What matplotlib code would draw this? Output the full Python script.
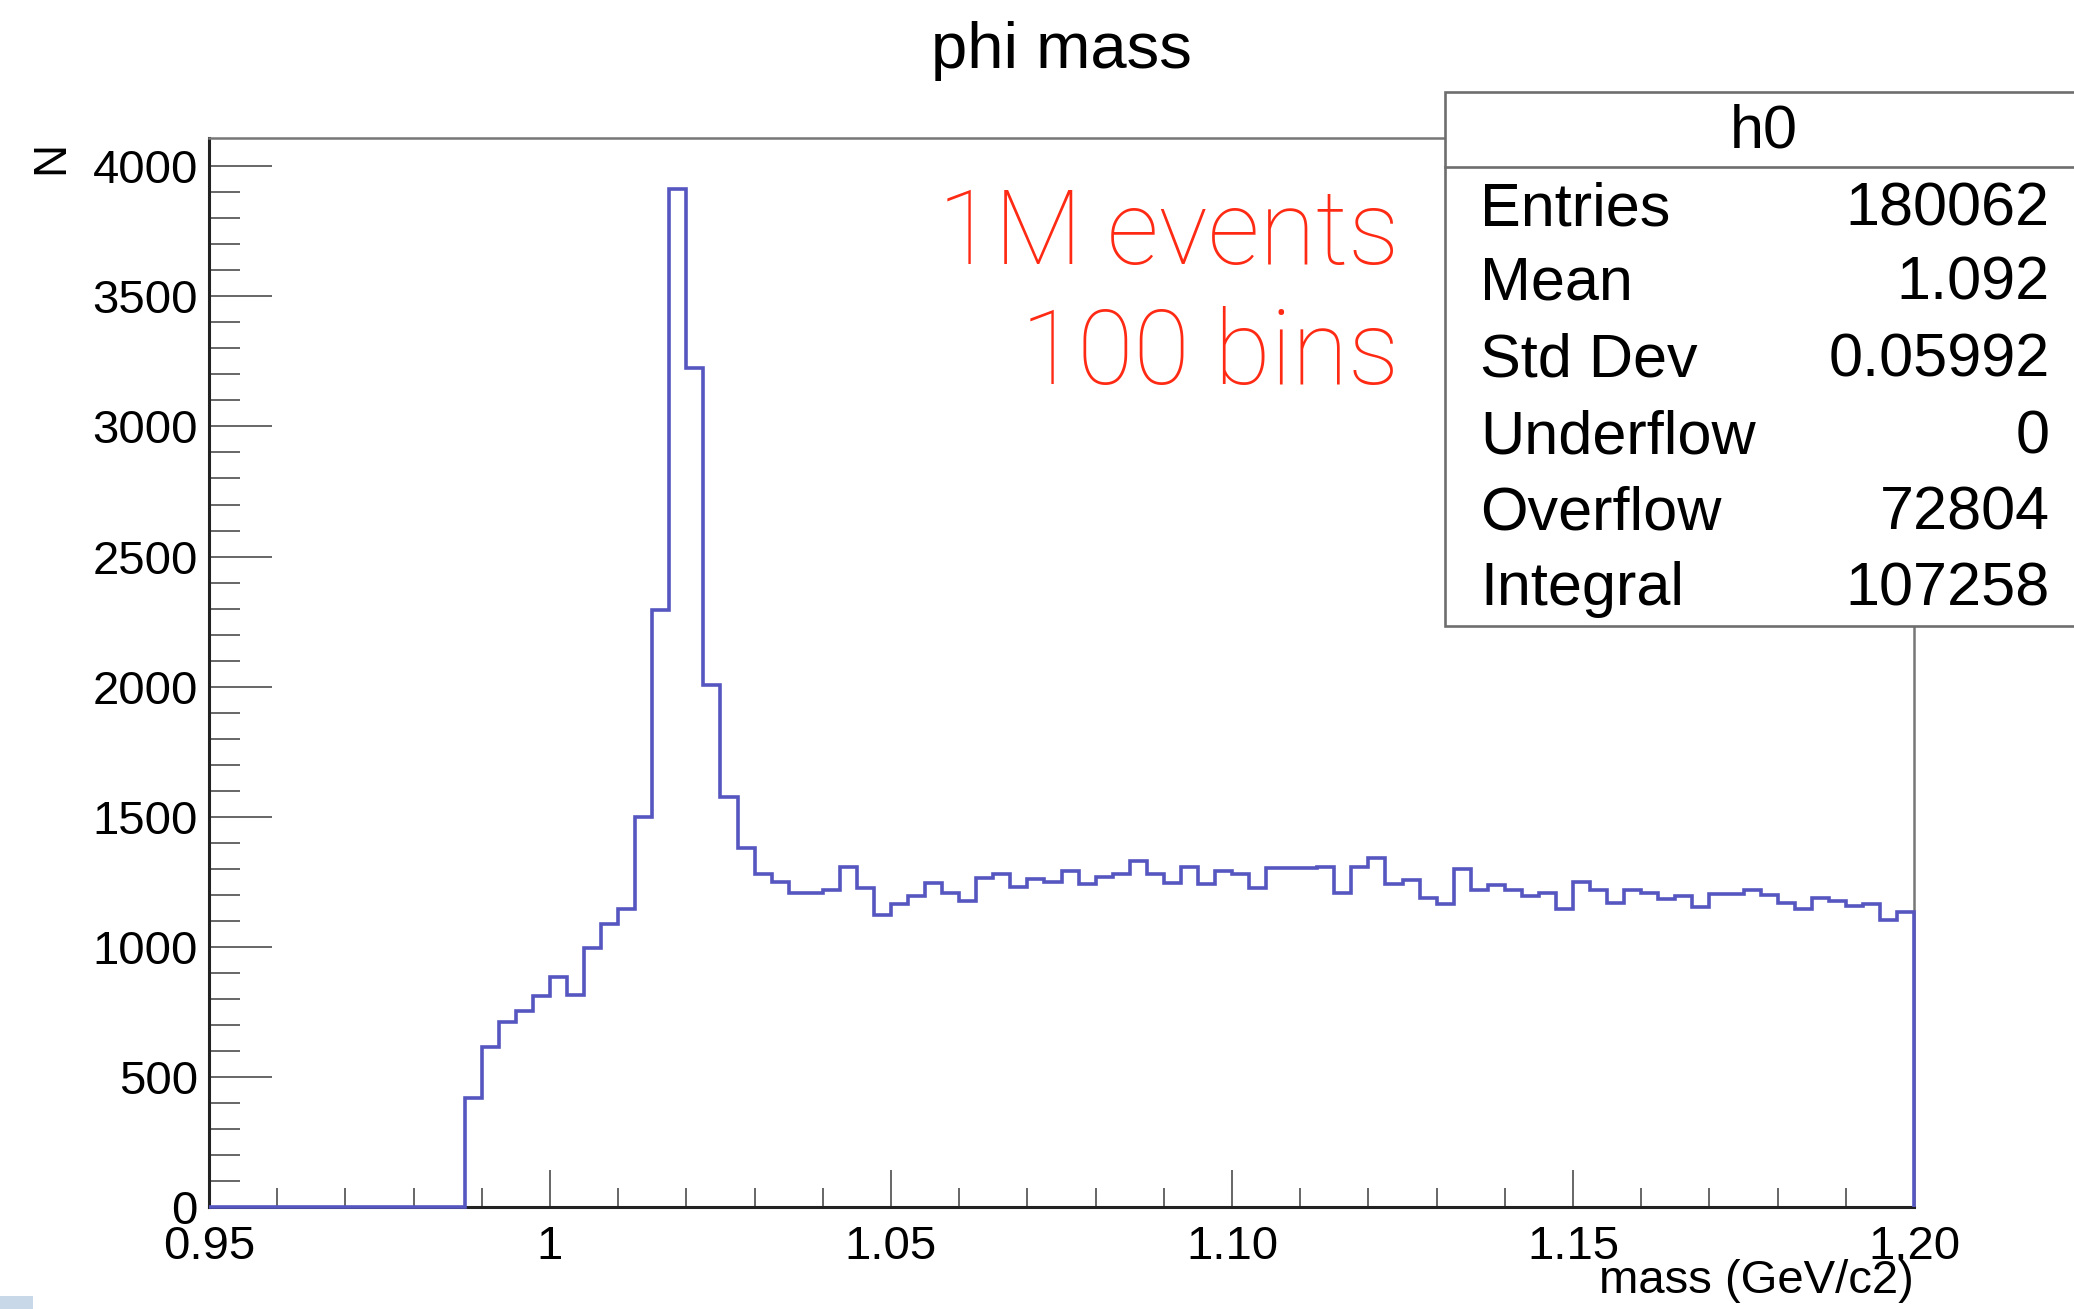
import numpy as np
import matplotlib
matplotlib.use('Agg')
import matplotlib.pyplot as plt
from matplotlib.patches import Rectangle
from matplotlib.lines import Line2D

# histogram h0 : 100 bins between 0.95 and 1.20
x_min = 0.95
x_max = 1.20
n_bins = 100
counts = [0, 0, 0, 0, 0, 0, 0, 0, 0, 0,
          0, 0, 0, 0, 0, 420, 615, 710, 752, 812,
          884, 815, 994, 1086, 1144, 1498, 2293, 3913, 3225, 2005,
          1574, 1378, 1278, 1249, 1208, 1208, 1220, 1307, 1227, 1123,
          1165, 1195, 1246, 1208, 1178, 1266, 1279, 1230, 1259, 1249,
          1292, 1240, 1268, 1281, 1331, 1281, 1246, 1307, 1240, 1292,
          1279, 1227, 1302, 1302, 1302, 1307, 1208, 1307, 1341, 1240,
          1256, 1188, 1165, 1298, 1220, 1236, 1220, 1195, 1208, 1147,
          1250, 1220, 1169, 1217, 1208, 1184, 1195, 1152, 1204, 1204,
          1220, 1198, 1169, 1147, 1188, 1178, 1156, 1165, 1104, 1134]

x_ticks = [0.95, 1.00, 1.05, 1.10, 1.15, 1.20]
x_tick_labels = ['0.95', '1', '1.05', '1.10', '1.15', '1.20']
y_ticks = [0, 500, 1000, 1500, 2000, 2500, 3000, 3500, 4000]

stat_names = ['Entries', 'Mean', 'Std Dev', 'Underflow', 'Overflow', 'Integral']
stat_values = ['180062', '1.092', '0.05992', '0', '72804', '107258']

W, H = 2074, 1309
plt.rcParams['font.family'] = ['Liberation Sans', 'DejaVu Sans']

fig = plt.figure(figsize=(W / 100, H / 100), dpi=100)
fig.patch.set_facecolor('white')

def fx(px):
    return px / W

def fy(py):
    return 1 - py / H

ax = fig.add_axes([fx(209), fy(1207), fx(1914) - fx(209), fy(138) - fy(1207)])

edges = np.linspace(x_min, x_max, n_bins + 1)
ax.stairs(counts, edges, color='#5656c0', linewidth=2.6, zorder=3, clip_on=False)

ax.set_xlim(x_min, x_max)
ax.set_ylim(0, 1.05 * max(counts))

ax.set_xticks(x_ticks)
ax.set_xticklabels(x_tick_labels)
ax.set_xticks(np.arange(0.96, 1.20, 0.01), minor=True)
ax.set_yticks(y_ticks)
ax.set_yticks(np.arange(0, 4100, 100), minor=True)

ax.tick_params(axis='x', which='major', direction='in', length=27, width=1.4,
               color='#666666', labelsize=34, pad=13)
ax.tick_params(axis='x', which='minor', direction='in', length=13.5, width=1.4,
               color='#666666')
ax.tick_params(axis='y', which='major', direction='in', length=45, width=1.4,
               color='#666666', labelsize=34, pad=8)
ax.tick_params(axis='y', which='minor', direction='in', length=22, width=1.4,
               color='#666666')

for side in ['left', 'bottom']:
    ax.spines[side].set_color('#222222')
    ax.spines[side].set_linewidth(2.2)
for side in ['top', 'right']:
    ax.spines[side].set_color('#777777')
    ax.spines[side].set_linewidth(1.8)

# titles
fig.text(fx(1061), fy(68), 'phi mass', fontsize=47, ha='center', va='baseline')
fig.text(fx(1914), fy(1293), 'mass (GeV/c2)', fontsize=34, ha='right', va='baseline')
fig.text(fx(51), fy(157), 'N', fontsize=33, rotation=90, ha='center', va='center')

# red annotation
red_font = ['Roboto', 'DejaVu Sans']
fig.text(fx(1399), fy(264), '1M events', fontsize=74, color='#ff2a14',
         family=red_font, fontweight='light', ha='right', va='baseline', zorder=4)
fig.text(fx(1399), fy(384), '100 bins', fontsize=74, color='#ff2a14',
         family=red_font, fontweight='light', ha='right', va='baseline', zorder=4)

# stats box
box = Rectangle((fx(1445), fy(626)), fx(2120) - fx(1445), fy(92) - fy(626),
                transform=fig.transFigure, facecolor='white', edgecolor='#6e6e6e',
                linewidth=1.9, zorder=5)
fig.add_artist(box)
fig.add_artist(Line2D([fx(1445), fx(2074)], [fy(167), fy(167)], transform=fig.transFigure,
                      color='#6e6e6e', linewidth=1.9, zorder=6))
fig.text(fx(1764), fy(147), 'h0', fontsize=44, ha='center', va='baseline', zorder=7)
row_y = [225, 300, 376, 454, 529, 605]
for name, val, yy in zip(stat_names, stat_values, row_y):
    fig.text(fx(1480), fy(yy), name, fontsize=44, ha='left', va='baseline', zorder=7)
    fig.text(fx(2050), fy(yy), val, fontsize=44, ha='right', va='baseline', zorder=7)

# small fragment at the lower-left corner
fig.add_artist(Rectangle((0, 0), fx(33), 13 / H, transform=fig.transFigure,
                         facecolor='#c8d8e8', edgecolor='none', zorder=5))

fig.savefig('out.png', dpi=100)
